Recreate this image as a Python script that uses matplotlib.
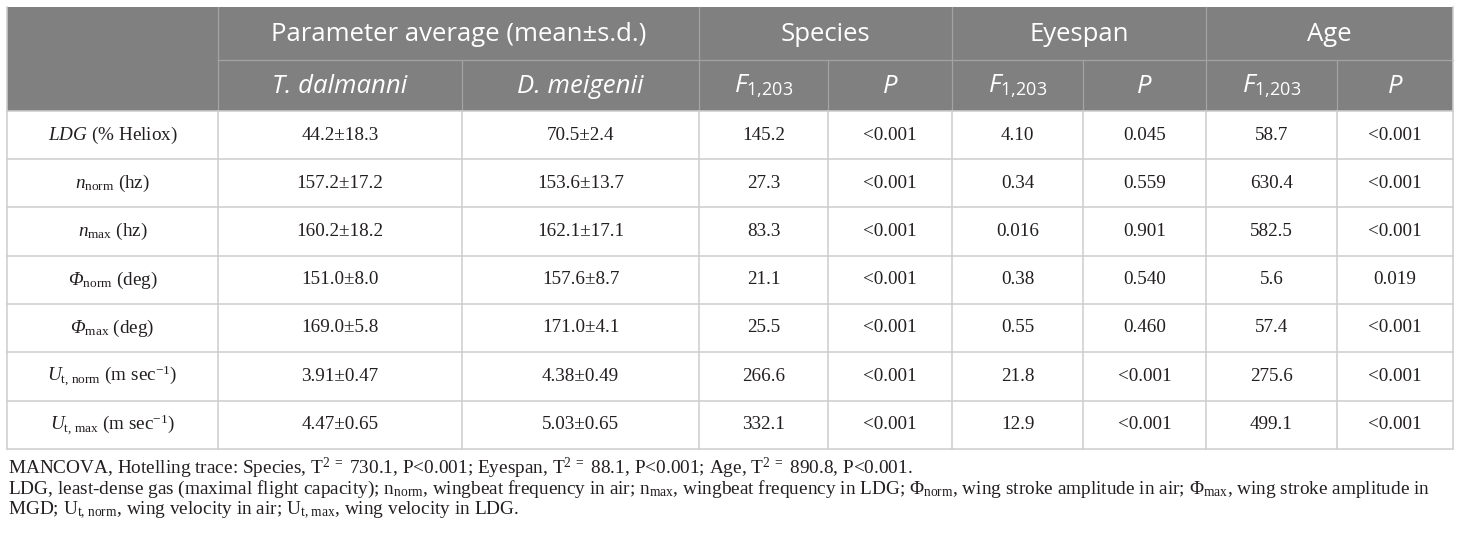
import matplotlib
matplotlib.use("Agg")
import matplotlib.pyplot as plt
from matplotlib.patches import Rectangle

# Datos de la tabla
params = [r"$\mathit{LDG}$ (% Heliox)",
          r"$\mathit{n}_{\rm norm}$ (hz)",
          r"$\mathit{n}_{\rm max}$ (hz)",
          r"$\mathbf{\Phi}_{\rm norm}$ (deg)",
          r"$\mathbf{\Phi}_{\rm max}$ (deg)",
          r"$\mathit{U}_{\rm t{,}\ norm}$ (m sec$^{-1}$)",
          r"$\mathit{U}_{\rm t{,}\ max}$ (m sec$^{-1}$)"]
t_dalmanni = ["44.2±18.3", "157.2±17.2", "160.2±18.2", "151.0±8.0", "169.0±5.8", "3.91±0.47", "4.47±0.65"]
d_meigenii = ["70.5±2.4", "153.6±13.7", "162.1±17.1", "157.6±8.7", "171.0±4.1", "4.38±0.49", "5.03±0.65"]
species_F = ["145.2", "27.3", "83.3", "21.1", "25.5", "266.6", "332.1"]
species_P = ["<0.001", "<0.001", "<0.001", "<0.001", "<0.001", "<0.001", "<0.001"]
eyespan_F = ["4.10", "0.34", "0.016", "0.38", "0.55", "21.8", "12.9"]
eyespan_P = ["0.045", "0.559", "0.901", "0.540", "0.460", "<0.001", "<0.001"]
age_F = ["58.7", "630.4", "582.5", "5.6", "57.4", "275.6", "499.1"]
age_P = ["<0.001", "<0.001", "<0.001", "0.019", "<0.001", "<0.001", "<0.001"]

group_titles = ["Parameter average (mean±s.d.)", "Species", "Eyespan", "Age"]
sub_titles = ["T. dalmanni", "D. meigenii",
              r"$\mathsf{F}_{\mathtt{1{,}203}}$", "P",
              r"$\mathsf{F}_{\mathtt{1{,}203}}$", "P",
              r"$\mathsf{F}_{\mathtt{1{,}203}}$", "P"]

notes = [r"MANCOVA, Hotelling trace: Species, T$^{\rm 2\ =}$ 730.1, P<0.001; Eyespan, T$^{\rm 2\ =}$ 88.1, P<0.001; Age, T$^{\rm 2\ =}$ 890.8, P<0.001.",
         r"LDG, least-dense gas (maximal flight capacity); $\mathrm{n}_{\rm norm}$, wingbeat frequency in air; $\mathrm{n}_{\rm max}$, wingbeat frequency in LDG; $\mathrm{\Phi}_{\rm norm}$, wing stroke amplitude in air; $\mathrm{\Phi}_{\rm max}$, wing stroke amplitude in",
         r"MGD; $\mathrm{U}_{\rm t{,}\ norm}$, wing velocity in air; $\mathrm{U}_{\rm t{,}\ max}$, wing velocity in LDG."]

# Fuentes (bf se usa para la Phi cursiva)
plt.rcParams["mathtext.fontset"] = "custom"
plt.rcParams["mathtext.rm"] = "Liberation Serif"
plt.rcParams["mathtext.it"] = "Liberation Serif:italic"
plt.rcParams["mathtext.bf"] = "Liberation Serif:italic"
plt.rcParams["mathtext.sf"] = "Open Sans:italic"
plt.rcParams["mathtext.tt"] = "Open Sans"

# Geometria (pixeles)
col_x = [7, 218, 462, 699, 828, 952, 1083, 1206, 1337, 1453]
row_y = [7, 60, 111, 159, 207, 256, 304, 352, 400.5, 448.5]
head_bg = "#808080"
grid_c = "#cdcdcd"
head_line = "#a3a3a3"
txt_c = "#231f20"

fig = plt.figure(figsize=(14.6, 5.36), dpi=100)
ax = fig.add_axes([0, 0, 1, 1])
ax.set_xlim(0, 1460)
ax.set_ylim(536, 0)
ax.axis("off")

# Cabecera
ax.add_patch(Rectangle((col_x[0], row_y[0]), col_x[-1] - col_x[0], row_y[2] - row_y[0],
                       facecolor=head_bg, edgecolor="none"))
for x in [col_x[1], col_x[3], col_x[5], col_x[7]]:
    ax.plot([x, x], [row_y[0], row_y[2]], color=head_line, lw=0.9)
for x in [col_x[2], col_x[4], col_x[6], col_x[8]]:
    ax.plot([x, x], [row_y[1], row_y[2]], color=head_line, lw=0.9)
ax.plot([col_x[1], col_x[-1]], [row_y[1], row_y[1]], color=head_line, lw=0.9)

spans = [(1, 3), (3, 5), (5, 7), (7, 9)]
for title, (a, b) in zip(group_titles, spans):
    ax.text((col_x[a] + col_x[b]) / 2, (row_y[0] + row_y[1]) / 2 + 1, title,
            ha="center", va="center", color="white", fontsize=18.5, family="Open Sans")
for j, s in enumerate(sub_titles):
    ax.text((col_x[j + 1] + col_x[j + 2]) / 2, (row_y[1] + row_y[2]) / 2 + 1, s,
            ha="center", va="center", color="white", fontsize=18.5, family="Open Sans",
            style="italic")

# Celdas
columns = [params, t_dalmanni, d_meigenii, species_F, species_P,
           eyespan_F, eyespan_P, age_F, age_P]
for i in range(len(params)):
    yc = (row_y[i + 2] + row_y[i + 3]) / 2
    for j, col in enumerate(columns):
        ax.text((col_x[j] + col_x[j + 1]) / 2, yc, col[i], ha="center", va="center",
                color=txt_c, fontsize=13.8, family="Liberation Serif")

# Rejilla
for y in row_y[2:]:
    ax.plot([col_x[0], col_x[-1]], [y, y], color=grid_c, lw=1.1)
for x in col_x:
    ax.plot([x, x], [row_y[2], row_y[-1]], color=grid_c, lw=1.1)
ax.plot([col_x[0], col_x[0]], [row_y[0], row_y[2]], color=grid_c, lw=1.1)
ax.plot([col_x[-1], col_x[-1]], [row_y[0], row_y[2]], color=grid_c, lw=1.1)

# Notas
for k, line in enumerate(notes):
    ax.text(8, 474 + 20 * k, line, ha="left", va="baseline", color=txt_c,
            fontsize=13.9, family="Liberation Serif")

fig.savefig("out.png", dpi=100)
